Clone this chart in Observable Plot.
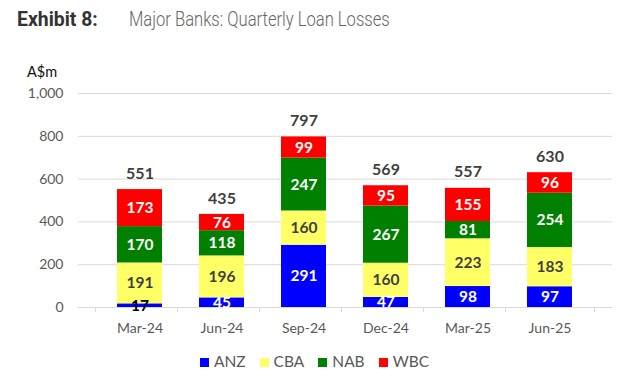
<!DOCTYPE html>
<html><head><meta charset="utf-8">
<script src="https://cdn.jsdelivr.net/npm/d3@7"></script>
<script src="https://cdn.jsdelivr.net/npm/@observablehq/plot@0.6"></script>
<style>
body{margin:0;background:#fff;}
#wrap{position:relative;width:629px;height:384px;overflow:hidden;background:#fff;}
#title{position:absolute;left:17px;top:6px;font-family:Roboto,sans-serif;font-size:20px;white-space:nowrap;line-height:26px;}
#title b{color:#333;font-weight:700;display:inline-block;transform:scaleX(0.97);transform-origin:left;}
#title span{position:absolute;left:112px;top:0;color:#666;font-weight:300;display:inline-block;transform:scaleX(0.83);transform-origin:left;}
#unit{position:absolute;left:27px;top:63px;font-family:Lato,sans-serif;font-size:14.5px;color:#111;}
#legend{position:absolute;left:0;width:629px;top:352px;text-align:center;font-family:Lato,sans-serif;font-size:15.5px;color:#595959;}
#legend .item{display:inline-block;margin:0 7px;}
#legend .sw{display:inline-block;width:9px;height:9px;margin-right:5px;vertical-align:0px;}
#chart{position:absolute;left:0;top:0;}
</style></head><body><div id="wrap"><div id="chart"></div><div id="title"><b>Exhibit 8:</b><span>Major Banks: Quarterly Loan Losses</span></div><div id="unit">A$m</div><div id="legend"></div></div>
<script>
const quarters = ["Mar-24","Jun-24","Sep-24","Dec-24","Mar-25","Jun-25"];
const banks = ["ANZ","CBA","NAB","WBC"];
const anz = [17,45,291,47,98,97];
const cba = [191,196,160,160,223,183];
const nab = [170,118,247,267,81,254];
const wbc = [173,76,99,95,155,96];
const totals = [551,435,797,569,557,630];
const yTicks = [0,200,400,600,800,1000];
const colors = ["#0000ff","#ffff66","#008000","#ff0000"];

const series = [anz, cba, nab, wbc];
const rows = [];
banks.forEach((b, j) => quarters.forEach((q, i) => rows.push({quarter: q, bank: b, value: series[j][i]})));
const totalRows = quarters.map((q, i) => ({quarter: q, total: totals[i]}));

const W = 629, H = 384, ML = 78, MR = 17, MT = 93, MB = 77;
const step = (W - ML - MR) / quarters.length;
const labelFill = d => d.bank === "CBA" ? "#3f3f3f" : (d.value < 30 ? "#000" : "#fff");

const plot = Plot.plot({
  width: W, height: H,
  marginLeft: ML, marginRight: MR, marginTop: MT, marginBottom: MB,
  style: {fontFamily: "Lato, sans-serif", fontSize: "14px", color: "#595959", background: "#fff"},
  x: {domain: quarters, padding: 0.45, label: null},
  y: {domain: [0, 1000], label: null},
  color: {domain: banks, range: colors},
  marks: [
    Plot.gridY(yTicks, {stroke: "#d9d9d9", strokeOpacity: 1}),
    Plot.barY(rows, {x: "quarter", y: "value", fill: "bank", order: banks}),
    Plot.ruleY([0], {stroke: "#d9d9d9", strokeWidth: 1}),
    Plot.ruleX(quarters, {x: d => d, y1: 0, y2: 0, insetBottom: -5, dx: -step / 2, stroke: "#d9d9d9"}),
    Plot.ruleX([quarters[quarters.length - 1]], {x: d => d, y1: 0, y2: 0, insetBottom: -5, dx: step / 2, stroke: "#d9d9d9"}),
    Plot.text(rows, Plot.stackY({x: "quarter", y: "value", text: "value", order: banks,
      fill: {value: labelFill, scale: null}, fontWeight: "bold", fontSize: 15.5, fontFamily: "Lato, sans-serif"})),
    Plot.text(totalRows, {x: "quarter", y: "total", text: "total", dy: -16, fill: "#404040", fontWeight: "bold", fontSize: 16, fontFamily: "Lato, sans-serif"}),
    Plot.axisY({ticks: yTicks, tickFormat: d3.format(","), tickSize: 0, tickPadding: 15, label: null}),
    Plot.axisX({tickSize: 0, tickPadding: 16, label: null})
  ]
});
document.getElementById("chart").appendChild(plot);

const leg = document.getElementById("legend");
banks.forEach((b, j) => {
  const it = document.createElement("span");
  it.className = "item";
  it.innerHTML = `<span class="sw" style="background:${colors[j]}"></span>${b}`;
  leg.appendChild(it);
});
</script></body></html>
